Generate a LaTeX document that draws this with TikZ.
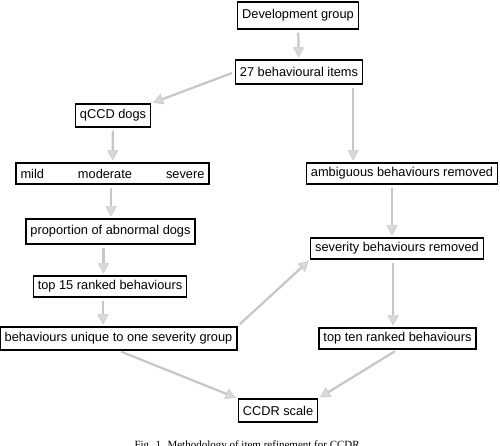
\documentclass[tikz,border=0pt]{standalone}
\usepackage{fontspec}
\setmainfont{Liberation Sans}
\newfontfamily\capserif{Liberation Serif}
\usepackage{tikz}
\usetikzlibrary{arrows.meta,positioning,calc}

\begin{document}
\begin{tikzpicture}[x=1pt,y=-1pt,
    box/.style={draw, line width=1.3pt, inner xsep=4.5pt, inner ysep=0pt,
      minimum height=22pt, font=\fontsize{12.8}{15}\selectfont},
    flow/.style={draw=gray!45, line width=2.2pt, shorten <=3pt, shorten >=2pt,
      -{Triangle[width=11pt,length=10pt,line width=0.5pt,fill=gray!30]}}]
  \useasboundingbox (0,0) rectangle (500,446);
  % boxes
  \node[box, minimum height=27pt] (devgroup) at (298,15.5) {Development group};
  \node[box, minimum height=24pt] (items) at (299,72) {27 behavioural items};
  \node[box, minimum height=23pt] (qccd) at (113,115.5) {qCCD dogs};
  \node[box, minimum height=21pt, text width=184pt] (levels) at (112.5,173.5)
    {mild\hfill moderate\hfill severe};
  \node[box, minimum height=21pt] (ambig) at (402,173.5) {ambiguous behaviours removed};
  \node[box, minimum height=25pt] (propdogs) at (110.5,231.5) {proportion of abnormal dogs};
  \node[box, minimum height=21pt] (topfifteen) at (110,286.5) {top 15 ranked behaviours};
  \node[box, minimum height=23pt] (unique) at (118.5,338.5) {behaviours unique to one severity group};
  \node[box, minimum height=21pt] (sevremoved) at (397,248.5) {severity behaviours removed};
  \node[box, minimum height=21pt] (topten) at (397.5,338.5) {top ten ranked behaviours};
  \node[box, minimum height=23pt] (ccdr) at (278,410.5) {CCDR scale};
  \node[font=\capserif\fontsize{11}{13}\selectfont, anchor=base] (caption) at (248.5,448)
    {Fig. 1. Methodology of item refinement for CCDR.};
  % arrows
  \draw[flow] (devgroup) -- (items);
  \draw[flow] (items.west) -- (qccd.north east);
  \draw[flow] ([xshift=-10pt]items.south east) -- ([xshift=-10pt]items.south east |- ambig.north);
  \draw[flow] (qccd) -- (levels);
  \draw[flow] ([xshift=-1.5pt]levels.south) -- ([xshift=-1.5pt]levels.south |- propdogs.north);
  \draw[flow] ([xshift=-7pt]propdogs.south) -- ([xshift=-7pt]propdogs.south |- topfifteen.north);
  \draw[flow] ([xshift=-7pt]topfifteen.south) -- ([xshift=-7pt]topfifteen.south |- unique.north);
  \draw[flow] ([xshift=-10pt]ambig.south) -- ([xshift=-10pt]ambig.south |- sevremoved.north);
  \draw[flow] ([xshift=-4pt]sevremoved.south) -- ([xshift=-4pt]sevremoved.south |- topten.north);
  \draw[flow] (unique.north east) -- (sevremoved.south west);
  \draw[flow] (unique.south) -- (ccdr.north west);
  \draw[flow] (topten.south) -- (ccdr.north east);
\end{tikzpicture}
\end{document}
